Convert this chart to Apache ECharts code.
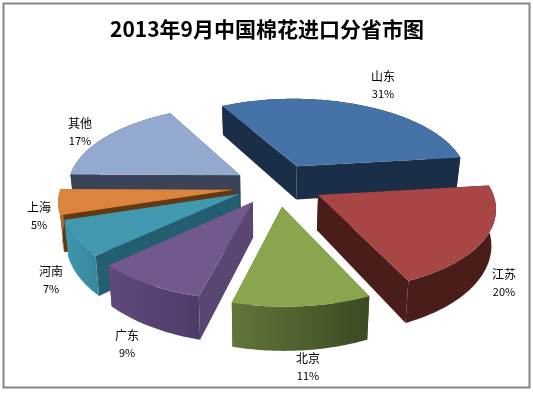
<!DOCTYPE html>
<html><head><meta charset="utf-8">
<style>html,body{margin:0;padding:0;background:#fff}#c{width:533px;height:394px}</style>
<script src="https://cdn.jsdelivr.net/npm/echarts@6/dist/echarts.min.js"></script>
</head><body><div id="c"></div>
<script>
// Data
var categories = ['山东','江苏','北京','广东','河南','上海','其他'];
var shares = [31,20,11,9,7,5,17];
var titleText = '2013年9月中国棉花进口分省市图';

// Style tables
var topColors   = ['#4572a7','#a74644','#89a54e','#71588f','#4198af','#db843d','#93a9cf'];
var innerColors = ['#1b2e47','#4a1c1a','#4f6030','#5a4672','#235f70','#63390f','#3b4358'];
var outerLeft   = ['#1b2e47','#4a1c1a','#62763a','#5f4a7c','#3f97af','#b06a2a','#3b4358'];
var outerRight  = ['#1b2e47','#4a1c1a','#3b4a22','#4e3c68','#37869c','#b06a2a','#3b4358'];
// Exploded-slice settings, in pie radii
var explodeX = [0.19,0.3025,0.0953,-0.0684,-0.1464,-0.1779,-0.1465];
var explodeZ = [0.3,-0.06,-0.2,-0.143,-0.0485,0.004,0.185];
// Label anchor points
var labelX = [383,504,308,127,51,39,80];
var labelY = [76,274,358,335,271,207,123];

// 3-D view settings
var view = {cx:265, cy:190, rx:174, ry:82, p:0.13, pDepth:0.175, depth:35, bottomScale:0.98, startDeg:-28.3};

function project(X, Z, level){
  var s = 1/(1+view.p*Z);
  var k = level ? view.bottomScale : 1;
  return [view.cx + view.rx*X*s*k, view.cy - view.ry*Z*s + (level ? view.depth/(1+view.pDepth*Z) : 0)];
}
var total = shares.reduce(function(a,b){return a+b;},0);

function renderSlice(params, api){
  var i = params.dataIndex;
  var before = 0;
  for (var j=0;j<i;j++) before += shares[j];
  var v = api.value(0);
  var a0 = view.startDeg + before/total*360;
  var a1 = a0 + v/total*360;
  var ex = explodeX[i], ez = explodeZ[i];
  var n = Math.max(8, Math.ceil(a1-a0));
  var rimTop=[], rimBot=[];
  for (var t=0;t<=n;t++){
    var a=(a0+(a1-a0)*t/n)*Math.PI/180;
    var X=ex+Math.sin(a), Z=ez+Math.cos(a);
    rimTop.push(project(X,Z,0));
    rimBot.push(project(X,Z,1));
  }
  var apexTop=project(ex,ez,0), apexBot=project(ex,ez,1);
  var mid=(a0+a1)/2*Math.PI/180;
  var base=Math.round((1-Math.cos(mid))*100)*10;
  var outerPts=rimTop.concat(rimBot.slice().reverse());
  var grad=new echarts.graphic.LinearGradient(0,0,1,0,[{offset:0,color:outerLeft[i]},{offset:1,color:outerRight[i]}]);
  var kids=[
    {type:'polygon',z2:base+1,shape:{points:[apexTop,rimTop[0],rimBot[0],apexBot]},style:{fill:innerColors[i]}},
    {type:'polygon',z2:base+1,shape:{points:[apexTop,rimTop[n],rimBot[n],apexBot]},style:{fill:innerColors[i]}},
    {type:'polygon',z2:base+2,shape:{points:outerPts},style:{fill:grad}},
    {type:'polygon',z2:base+3,shape:{points:[apexTop].concat(rimTop)},style:{fill:topColors[i]}},
    {type:'text',z2:2000,style:{x:labelX[i],y:labelY[i],text:categories[i],align:'center',verticalAlign:'middle',fill:'#000',font:'12px "Noto Sans CJK SC"'}},
    {type:'text',z2:2000,style:{x:labelX[i],y:labelY[i]+18,text:v+'%',align:'center',verticalAlign:'middle',fill:'#000',font:'11px "Noto Sans CJK SC"'}}
  ];
  return {type:'group',children:kids};
}

var chart=echarts.init(document.getElementById('c'),null,{renderer:'canvas'});
chart.setOption({
  animation:false,
  backgroundColor:'#fff',
  title:{text:titleText,left:262,textAlign:'center',top:14,textStyle:{fontFamily:'"Noto Sans CJK SC"',fontSize:21,fontWeight:'bold',color:'#000'}},
  graphic:[{type:'rect',z:-1,shape:{x:3.5,y:3.5,width:526,height:384},style:{fill:'#fff',stroke:'#868686',lineWidth:2}}],
  series:[{
    type:'custom',coordinateSystem:'none',renderItem:renderSlice,silent:true,
    data:categories.map(function(c,i){return {name:c,value:[shares[i]]};})
  }]
});
</script></body></html>
